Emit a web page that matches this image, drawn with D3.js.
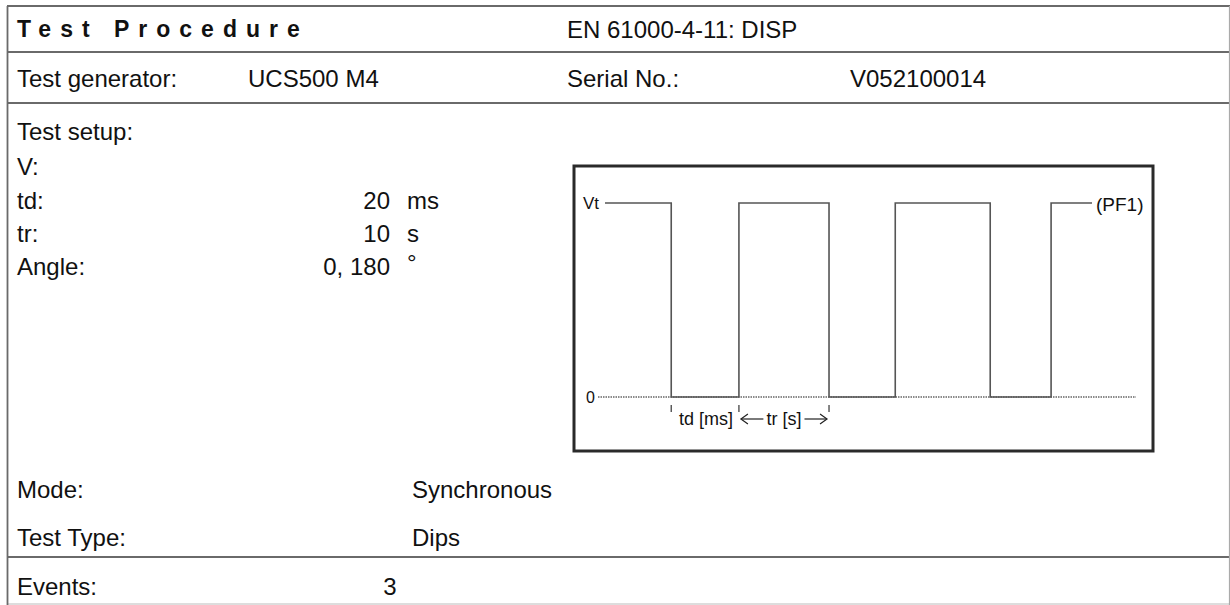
<!DOCTYPE html>
<html>
<head>
<meta charset="utf-8">
<script src="https://cdn.jsdelivr.net/npm/d3@7"></script>
<style>
  html, body { margin: 0; padding: 0; background: #fff; }
  svg { display: block; }
  text { font-family: "Liberation Sans", Arial, sans-serif; fill: #111; }
  text.narrow { font-family: "Liberation Sans Narrow", "Liberation Sans", Arial, sans-serif; }
</style>
</head>
<body>
<div id="chart"></div>
<script>
// ---------- data ----------
const titleText = "Test Procedure";
const standardText = "EN 61000-4-11: DISP";
const generatorRow = ["Test generator:", "UCS500 M4", "Serial No.:", "V052100014"];
const setupHeader = "Test setup:";
const setupLabels = ["V:", "td:", "tr:", "Angle:"];
const setupValues = ["", "20", "10", "0, 180"];
const setupUnits = ["", "ms", "s", "°"];
const modeRows = [["Mode:", "Synchronous"], ["Test Type:", "Dips"]];
const eventsRow = ["Events:", "3"];

// waveform schematic: time of each edge (arbitrary units) and level after the edge
const edgeTimes = [0, 13.6, 27.5, 46.0, 59.6, 79.1, 91.6, 100];
const edgeLevels = [1, 0, 1, 0, 1, 0, 1, 1];
const levelLabels = ["0", "Vt"];
const endLabel = "(PF1)";
const tdLabel = "td [ms]";
const trLabel = "tr [s]";

// ---------- drawing ----------
const W = 1230, H = 605;
const svg = d3.select("#chart").append("svg").attr("width", W).attr("height", H);

const lineColor = "#6a6a6a";
// table frame
const hLines = [6, 52, 103, 557];
svg.selectAll("line.h").data(hLines).join("line")
  .attr("x1", 7).attr("x2", 1230).attr("y1", d => d).attr("y2", d => d)
  .attr("stroke", lineColor).attr("stroke-width", 1.8);
svg.append("line").attr("x1", 7).attr("x2", 1230).attr("y1", 604).attr("y2", 604)
  .attr("stroke", "#bbb").attr("stroke-width", 1.2);
svg.append("line").attr("x1", 7.5).attr("x2", 7.5).attr("y1", 6).attr("y2", 605)
  .attr("stroke", lineColor).attr("stroke-width", 1.8);
svg.append("line").attr("x1", 1229.5).attr("x2", 1229.5).attr("y1", 6).attr("y2", 605)
  .attr("stroke", "#aaa").attr("stroke-width", 1.2);

const fs = 24;
function txt(x, y, s, opts = {}) {
  return svg.append("text").attr("x", x).attr("y", y)
    .attr("class", opts.cls || null)
    .attr("dominant-baseline", "central")
    .attr("text-anchor", opts.anchor || "start")
    .style("font-size", (opts.size || fs) + "px")
    .style("font-weight", opts.weight || "normal")
    .style("letter-spacing", opts.ls || "0px")
    .text(s);
}

// title row
txt(17, 29, titleText, { weight: "bold", ls: "9px", size: 23 });
txt(567, 29, standardText);

// generator row
const genX = [17, 248, 567, 850];
generatorRow.forEach((s, i) => txt(genX[i], 78, s));

// setup block
txt(17, 131, setupHeader);
const setupY = [166, 200, 233, 266];
setupLabels.forEach((s, i) => {
  txt(17, setupY[i], s);
  txt(390, setupY[i], setupValues[i], { anchor: "end" });
  txt(407, setupY[i] + (setupUnits[i] === "°" ? -4 : 0), setupUnits[i]);
});

// mode rows
const modeY = [489, 537];
modeRows.forEach((r, i) => {
  txt(17, modeY[i], r[0]);
  txt(412, modeY[i], r[1]);
});
txt(17, 586, eventsRow[0]);
txt(390, 586, eventsRow[1], { anchor: "middle" });

// ---------- waveform schematic ----------
const box = { x0: 574, y0: 166, x1: 1153, y1: 451 };
svg.append("rect").attr("x", box.x0).attr("y", box.y0)
  .attr("width", box.x1 - box.x0).attr("height", box.y1 - box.y0)
  .attr("fill", "none").attr("stroke", "#2a2a2a").attr("stroke-width", 3);

const x = d3.scaleLinear().domain([0, 100]).range([605, 1092]);
const y = d3.scaleLinear().domain([0, 1]).range([397, 203]);

// dotted zero line
svg.append("line").attr("x1", 598).attr("x2", 1136).attr("y1", y(0)).attr("y2", y(0))
  .attr("stroke", "#666").attr("stroke-width", 1.3).attr("stroke-dasharray", "1.5,1");

const wave = edgeTimes.map((t, i) => ({ t, v: edgeLevels[i] }));
const waveLine = d3.line().x(d => x(d.t)).y(d => y(d.v)).curve(d3.curveStepAfter);
svg.append("path").datum(wave).attr("d", waveLine)
  .attr("fill", "none").attr("stroke", "#555").attr("stroke-width", 1.6);

txt(x(0) - 6, y(1), levelLabels[1], { anchor: "end", size: 17, cls: "narrow" });
txt(x(0) - 10, y(0), levelLabels[0], { anchor: "end", size: 16, cls: "narrow" });
txt(x(100) + 4, y(1) + 1, endLabel, { size: 19, cls: "narrow" });

// td / tr annotation
const tA = edgeTimes[1], tB = edgeTimes[2], tC = edgeTimes[3];
const annY = y(0) + 22;
[tA, tB, tC].forEach(t => {
  svg.append("line").attr("x1", x(t)).attr("x2", x(t))
    .attr("y1", annY - 14).attr("y2", annY - 7)
    .attr("stroke", "#444").attr("stroke-width", 1.3);
});
txt((x(tA) + x(tB)) / 2 + 1, annY, tdLabel, { anchor: "middle", size: 18, cls: "narrow" });
const trText = txt((x(tB) + x(tC)) / 2, annY, trLabel, { anchor: "middle", size: 18, cls: "narrow" });
const bb = trText.node().getBBox();
function arrow(xFrom, xTo) {
  svg.append("line").attr("x1", xFrom).attr("x2", xTo).attr("y1", annY).attr("y2", annY)
    .attr("stroke", "#222").attr("stroke-width", 1.2);
  const dir = Math.sign(xTo - xFrom);
  svg.append("path")
    .attr("d", `M${xTo - dir * 7},${annY - 5} L${xTo},${annY} L${xTo - dir * 7},${annY + 5}`)
    .attr("fill", "none").attr("stroke", "#222").attr("stroke-width", 1.2);
}
arrow(bb.x - 3, x(tB) + 2);
arrow(bb.x + bb.width + 3, x(tC) - 2);
</script>
</body>
</html>
